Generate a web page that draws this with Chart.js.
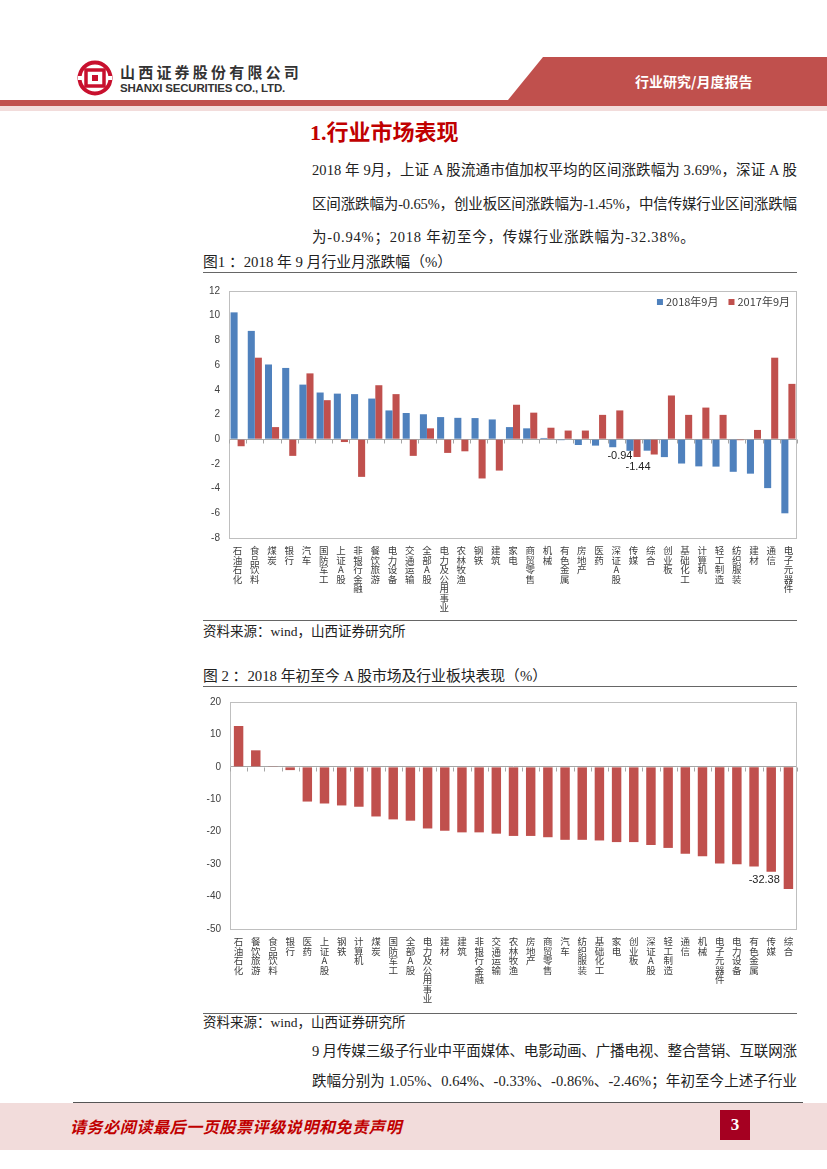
<!DOCTYPE html>
<html>
<head>
<meta charset="utf-8">
<script src="https://cdn.jsdelivr.net/npm/chart.js@4.4.1/dist/chart.umd.min.js"></script>
<style>
body{margin:0;background:#fff;}
#page{position:relative;width:827px;height:1169px;overflow:hidden;font-family:"Liberation Serif","Noto Sans CJK SC",serif;color:#222;}
.abs{position:absolute;}
.ln{position:absolute;left:312px;font-size:14.5px;line-height:20px;white-space:nowrap;}
.figt{position:absolute;left:203px;font-size:14.8px;line-height:18px;white-space:nowrap;}
.rule{position:absolute;left:203px;width:594px;height:0;border-top:1.5px solid #666;}
.src{position:absolute;left:203px;font-size:13.5px;line-height:18px;}
canvas{position:absolute;}
</style>
</head>
<body>
<div id="page">
  <!-- header -->
  <svg class="abs" style="left:0;top:0" width="827" height="115">
    <polygon points="543,57 827,57 827,100 508,100" fill="#c0504d"/>
    <rect x="0" y="100" width="827" height="6" fill="#c0504d"/>
    <rect x="0" y="106" width="827" height="5" fill="#f2dcdb"/>
    <circle cx="95" cy="78" r="15.5" fill="none" stroke="#c8102e" stroke-width="4"/>
    <rect x="86" y="70" width="18" height="16" fill="none" stroke="#c8102e" stroke-width="3.5"/>
    <rect x="92" y="75" width="6" height="6" fill="#c8102e"/>
    <rect x="78" y="76" width="6" height="4" fill="#fff"/>
    <rect x="106" y="76" width="6" height="4" fill="#fff"/>
  </svg>
  <div class="abs" style="left:120px;top:62px;font:bold 15px 'Noto Sans CJK SC';letter-spacing:3.2px;color:#333;line-height:20px">山西证券股份有限公司</div>
  <div class="abs" style="left:120px;top:81px;font:bold 11.5px 'Liberation Sans',Arial;color:#333;line-height:14px;letter-spacing:-0.2px">SHANXI SECURITIES CO., LTD.</div>
  <div class="abs" style="left:635px;top:71px;font:bold 14px 'Noto Sans CJK SC';color:#fff;line-height:20px">行业研究/月度报告</div>

  <div class="abs" style="left:310px;top:118px;font:bold 22px 'Liberation Serif','Noto Sans CJK SC';color:#c00000;line-height:30px">1.行业市场表现</div>
  <div class="ln fit" style="top:160px">2018 年 9月，上证 A 股流通市值加权平均的区间涨跌幅为 3.69%，深证 A 股</div>
  <div class="ln fit" style="top:194px">区间涨跌幅为-0.65%，创业板区间涨跌幅为-1.45%，中信传媒行业区间涨跌幅</div>
  <div class="ln" style="top:227px;letter-spacing:0.8px">为-0.94%；2018 年初至今，传媒行业涨跌幅为-32.38%。</div>

  <div class="figt" style="top:253px">图1 ：2018 年 9 月行业月涨跌幅（%）</div>
  <div class="rule" style="top:272px"></div>
  <canvas id="c1" width="606" height="340" style="left:196px;top:276px"></canvas>
  <div class="rule" style="top:620px"></div>
  <div class="src" style="top:623px">资料来源：wind，山西证券研究所</div>

  <div class="figt" style="top:667px">图 2 ：2018 年初至今 A 股市场及行业板块表现（%）</div>
  <div class="rule" style="top:686px"></div>
  <canvas id="c2" width="606" height="322" style="left:196px;top:687px"></canvas>
  <div class="rule" style="top:1013px"></div>
  <div class="src" style="top:1014px">资料来源：wind，山西证券研究所</div>

  <div class="ln fit" style="top:1041px">9 月传媒三级子行业中平面媒体、电影动画、广播电视、整合营销、互联网涨</div>
  <div class="ln fit" style="top:1071px">跌幅分别为 1.05%、0.64%、-0.33%、-0.86%、-2.46%；年初至今上述子行业</div>

  <!-- footer -->
  <div class="abs" style="left:0;top:1103px;width:827px;height:47px;background:#f2dcdb"></div>
  <div class="abs" style="left:73px;top:1102px;width:730px;border-top:1px solid #555"></div>
  <div class="abs" style="left:70px;top:1116px;font:bold italic 16px 'Noto Sans CJK SC';letter-spacing:0.6px;color:#c00000;line-height:20px">请务必阅读最后一页股票评级说明和免责声明</div>
  <div class="abs" style="left:720px;top:1110px;width:30px;height:30px;background:#a50021;color:#fff;font:bold 17px 'Liberation Serif';text-align:center;line-height:30px">3</div>
</div>

<script>
// ---- data ----
const cats1 = ['石油石化','食品饮料','煤炭','银行','汽车','国防军工','上证A股','非银行金融','餐饮旅游','电力设备','交通运输','全部A股','电力及公用事业','农林牧渔','钢铁','建筑','家电','商贸零售','机械','有色金属','房地产','医药','深证A股','传媒','综合','创业板','基础化工','计算机','轻工制造','纺织服装','建材','通信','电子元器件'];
const sep2018 = [10.27,8.77,6.05,5.77,4.42,3.78,3.69,3.65,3.29,2.33,2.12,2.02,1.79,1.73,1.71,1.60,0.98,0.88,0.10,-0.08,-0.47,-0.52,-0.65,-0.94,-0.93,-1.45,-1.97,-2.20,-2.22,-2.64,-2.79,-3.96,-6.00];
const sep2017 = [-0.57,6.60,0.98,-1.35,5.33,3.16,-0.23,-3.05,4.37,3.65,-1.35,0.88,-1.11,-0.98,-3.18,-2.54,2.79,2.15,0.93,0.70,0.70,1.97,2.33,-1.44,-1.24,3.54,1.97,2.56,1.97,-0.08,0.75,6.60,4.48];
const series1 = ['2018年9月','2017年9月'];

const cats2 = ['石油石化','餐饮旅游','食品饮料','银行','医药','上证A股','钢铁','计算机','煤炭','国防军工','全部A股','电力及公用事业','建材','建筑','非银行金融','交通运输','农林牧渔','房地产','商贸零售','汽车','纺织服装','基础化工','家电','创业板','深证A股','轻工制造','通信','机械','电子元器件','电力设备','有色金属','传媒','综合'];
const ytd2018 = [12.6,5.1,0.1,-1.0,-10.7,-11.3,-11.9,-12.3,-15.3,-16.2,-16.6,-19.0,-19.7,-20.2,-20.2,-20.6,-21.3,-21.3,-21.7,-22.5,-22.5,-22.7,-23.2,-23.2,-24.1,-25.0,-26.8,-27.6,-29.8,-30.0,-30.7,-32.38,-37.7];

const yTicks1 = {min:-8, max:12, step:2};
const yTicks2 = {min:-50, max:20, step:10};

// labelled points: [dataset, category index]
const marks1 = [[0,23],[1,23]];
const marks2 = [[0,31]];

const BLUE='#4f81bd', RED='#c0504d';

// stretch justified body lines to the text column width
document.querySelectorAll('.fit').forEach(el=>{
  const W=485, n=el.textContent.length;
  const w=el.getBoundingClientRect().width;
  el.style.letterSpacing=((W-w)/(n-1))+'px';
});

// plot-area frame + small ticks on zero line
const framePlugin = {
  id:'frame',
  beforeDatasetsDraw(chart){
    const {ctx, chartArea:a, scales:{y}} = chart;
    ctx.save();
    ctx.strokeStyle='#bfbfbf'; ctx.lineWidth=1;
    ctx.strokeRect(Math.round(a.left)+0.5, Math.round(a.top)+0.5, Math.round(a.right-a.left)-1, Math.round(a.bottom-a.top));
    const y0 = Math.round(y.getPixelForValue(0))+0.5;
    const n = chart.data.labels.length, w=(a.right-a.left)/n;
    ctx.strokeStyle='#a6a6a6';
    ctx.beginPath();
    for(let i=0;i<=n;i++){ const xx=Math.round(a.left+i*w)+0.5; ctx.moveTo(xx,y0); ctx.lineTo(xx,y0+4); }
    ctx.stroke();
    ctx.restore();
  }
};

// horizontal legend in the top-right corner of the plot area
const cornerLegend = {
  id:'cornerLegend',
  afterDraw(chart){
    const {ctx, chartArea:a} = chart;
    ctx.save();
    ctx.font='11px "Noto Sans CJK SC"'; ctx.textBaseline='middle'; ctx.textAlign='left';
    const yy=a.top+11;
    let x=a.right-7;
    const ds=chart.data.datasets.slice().reverse();
    ds.forEach(d=>{
      const tw=ctx.measureText(d.label).width;
      x-=tw; ctx.fillStyle='#404040'; ctx.fillText(d.label,x,yy);
      x-=9; ctx.fillStyle=d.backgroundColor; ctx.fillRect(x,yy-3,6,6);
      x-=10;
    });
    ctx.restore();
  }
};

// value labels under chosen bars
function valueLabels(marks, offsets){
  return {
    id:'vlabels',
    afterDatasetsDraw(chart){
      const ctx=chart.ctx; ctx.save();
      ctx.font='11px "Liberation Sans", Arial'; ctx.fillStyle='#222';
      ctx.textAlign='center'; ctx.textBaseline='top';
      marks.forEach(([d,i],k)=>{
        const el=chart.getDatasetMeta(d).data[i];
        const v=chart.data.datasets[d].data[i];
        ctx.fillText(v.toFixed(2), el.x+offsets[k][0], el.y+offsets[k][1]);
      });
      ctx.restore();
    }
  };
}

function baseOpts(yr, xH, yW){
  return {
    responsive:false, animation:false,
    layout:{padding:{top:6,right:5,left:0,bottom:0}},
    plugins:{tooltip:{enabled:false}, legend:{display:false}},
    scales:{
      x:{
        grid:{display:false, drawTicks:false}, border:{display:false},
        ticks:{autoSkip:false,maxRotation:0,minRotation:0,padding:8,color:'#404040',
          font:{family:'"Noto Sans CJK SC"',size:9.5,lineHeight:1.0}},
        afterFit(s){ s.height=xH; }
      },
      y:{
        min:yr.min, max:yr.max,
        grid:{drawTicks:false, color:c=>c.tick.value===0?'#a6a6a6':'transparent'},
        border:{display:false},
        ticks:{stepSize:yr.step,padding:9,color:'#404040',font:{family:'"Liberation Sans", Arial',size:10}},
        afterFit(s){ s.width=yW; }
      }
    }
  };
}

new Chart(document.getElementById('c1'), {
  type:'bar',
  data:{
    labels:cats1.map(s=>s.split('')),
    datasets:[
      {label:series1[0], data:sep2018, backgroundColor:BLUE, categoryPercentage:0.82, barPercentage:1.0},
      {label:series1[1], data:sep2017, backgroundColor:RED, categoryPercentage:0.82, barPercentage:1.0}
    ]
  },
  options:baseOpts(yTicks1, 78, 33),
  plugins:[framePlugin, cornerLegend, valueLabels(marks1, [[-10,0],[1,4]])]
});

new Chart(document.getElementById('c2'), {
  type:'bar',
  data:{
    labels:cats2.map(s=>s.split('')),
    datasets:[{label:'2018年初至今', data:ytd2018, backgroundColor:RED, categoryPercentage:0.55, barPercentage:1.0}]
  },
  options:baseOpts(yTicks2, 80, 34),
  plugins:[framePlugin, valueLabels(marks2, [[-7,3]])]
});
</script>
</body>
</html>
